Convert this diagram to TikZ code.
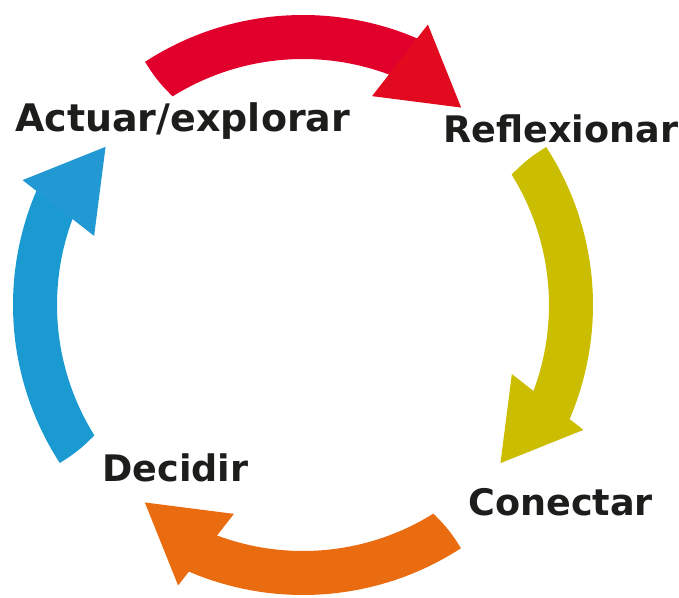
\documentclass[tikz,border=0pt]{standalone}
\usepackage{fontspec}
\setmainfont{DejaVu Sans}
\definecolor{rojo}{HTML}{E0002B}
\definecolor{rojohead}{HTML}{E10A1F}
\definecolor{amarillo}{HTML}{CBBD00}
\definecolor{naranja}{HTML}{EA6C10}
\definecolor{azul}{HTML}{1B9AD2}
\definecolor{azulhead}{HTML}{2399D4}
\definecolor{texto}{HTML}{1D1D1B}

\begin{document}
\begin{tikzpicture}[x=0.025cm,y=0.025cm,
	lbl/.style={anchor=base west, inner sep=0pt, text=texto, font=\bfseries\fontsize{26}{31}\selectfont}]
	%defs
	\def\ro{290}
	\def\ri{246}
	\useasboundingbox (-303,-293) rectangle (376,305);
	\coordinate (o) at (0,0);
	%red
	\fill[rojo] (123:\ro) arc[start angle=123, end angle=66, radius=\ro] -- (69.5:\ri) arc[start angle=69.5, end angle=122, radius=\ri] to[bend left=7] (123:\ro) -- cycle;
	\fill[rojohead] (66:307) -- (51.3:253) -- (71.7:220) -- cycle;
	%yellow
	\begin{scope}[rotate=-90]
		\fill[amarillo] (123:\ro) arc[start angle=123, end angle=66, radius=\ro] -- (69.5:\ri) arc[start angle=69.5, end angle=122, radius=\ri] to[bend left=7] (123:\ro) -- cycle;
		\fill[amarillo] (66:307) -- (51.3:253) -- (71.7:220) -- cycle;
	\end{scope}
	%orange
	\begin{scope}[rotate=-180]
		\fill[naranja] (123:\ro) arc[start angle=123, end angle=66, radius=\ro] -- (69.5:\ri) arc[start angle=69.5, end angle=122, radius=\ri] to[bend left=7] (123:\ro) -- cycle;
		\fill[naranja] (66:307) -- (51.3:253) -- (71.7:220) -- cycle;
	\end{scope}
	%blue
	\begin{scope}[rotate=-270]
		\fill[azul] (123:\ro) arc[start angle=123, end angle=66, radius=\ro] -- (69.5:\ri) arc[start angle=69.5, end angle=122, radius=\ri] to[bend left=7] (123:\ro) -- cycle;
		\fill[azulhead] (66:307) -- (51.3:253) -- (71.7:220) -- cycle;
	\end{scope}
	%Labels
	\node[lbl, font=\bfseries\fontsize{27}{32}\selectfont] (actuar) at (-288,173) {Actuar/explorar};
	\node[lbl] (reflex) at (140,162) {Reflexionar};
	\node[lbl] (conect) at (165,-210) {Conectar};
	\node[lbl] (decid) at (-201,-177) {Decidir};
\end{tikzpicture}
\end{document}
